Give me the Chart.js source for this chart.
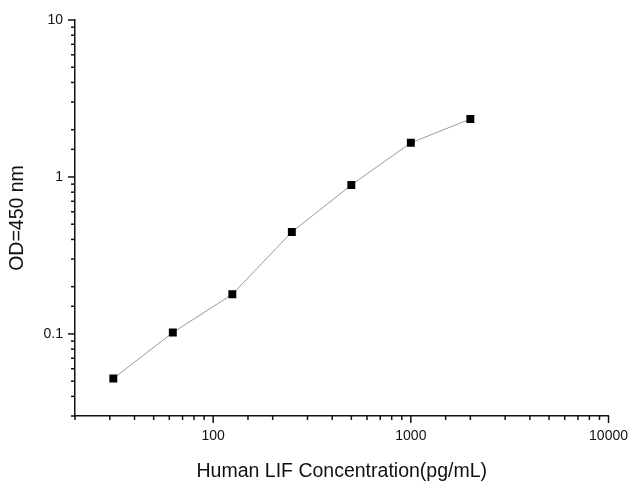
<!DOCTYPE html>
<html>
<head>
<meta charset="utf-8">
<script src="https://cdn.jsdelivr.net/npm/chart.js@4.4.1/dist/chart.umd.min.js"></script>
<style>
html,body{margin:0;padding:0;background:#fff;}
#wrap{width:633px;height:483px;position:relative;}
</style>
</head>
<body>
<div id="wrap"><canvas id="c" width="633" height="483"></canvas></div>
<script>
const concentrations = [31.25, 62.5, 125, 250, 500, 1000, 2000];
const odValues = [0.052, 0.102, 0.179, 0.446, 0.889, 1.65, 2.34];
const xTickLabels = [100, 1000, 10000];
const yTickLabels = [0.1, 1, 10];
const xTitle = 'Human LIF Concentration(pg/mL)';
const yTitle = 'OD=450 nm';

const FONT = '"Liberation Sans", Arial, sans-serif';

function isDecade(v) {
  const l = Math.log10(v);
  return Math.abs(l - Math.round(l)) < 1e-9;
}

const tickPlugin = {
  id: 'customTicks',
  afterDraw(chart) {
    const ctx = chart.ctx;
    ctx.save();
    ctx.strokeStyle = '#111';
    ctx.lineWidth = 1.5;
    const xs = chart.scales.x, ys = chart.scales.y;
    const bottom = chart.chartArea.bottom, left = chart.chartArea.left;
    xs.ticks.forEach(t => {
      const px = xs.getPixelForValue(t.value);
      const len = isDecade(t.value) ? 7 : 4;
      ctx.beginPath();
      ctx.moveTo(px, bottom);
      ctx.lineTo(px, bottom + len);
      ctx.stroke();
    });
    ys.ticks.forEach(t => {
      const py = ys.getPixelForValue(t.value);
      const len = isDecade(t.value) ? 7 : 4;
      ctx.beginPath();
      ctx.moveTo(left, py);
      ctx.lineTo(left - len, py);
      ctx.stroke();
    });
    ctx.restore();
  }
};

new Chart(document.getElementById('c'), {
  type: 'line',
  data: {
    datasets: [{
      data: concentrations.map((x, i) => ({x: x, y: odValues[i]})),
      borderColor: '#9a9a9a',
      borderWidth: 1,
      tension: 0,
      pointStyle: 'rect',
      pointRadius: 5.6,
      pointBackgroundColor: '#000',
      pointBorderColor: '#000',
      pointBorderWidth: 0,
      fill: false
    }]
  },
  options: {
    responsive: false,
    animation: false,
    devicePixelRatio: 1,
    layout: {padding: {top: 20, right: 21, left: 0, bottom: 0}},
    plugins: {legend: {display: false}, tooltip: {enabled: false}},
    scales: {
      x: {
        type: 'logarithmic',
        min: 20,
        max: 10000,
        border: {display: true, color: '#111', width: 1.5},
        grid: {display: true, drawOnChartArea: false, drawTicks: true, tickLength: 7, color: 'rgba(0,0,0,0)'},
        ticks: {
          autoSkip: false,
          maxRotation: 0,
          padding: 5,
          color: '#111',
          font: {family: FONT, size: 14},
          callback: (v) => xTickLabels.includes(v) ? String(v) : ''
        },
        title: {display: true, text: xTitle, color: '#111', font: {family: FONT, size: 19.5}, padding: {top: 8, bottom: 0}},
        afterFit: (s) => { s.height = 67; }
      },
      y: {
        type: 'logarithmic',
        min: 0.03,
        max: 10,
        border: {display: true, color: '#111', width: 1.5},
        grid: {display: true, drawOnChartArea: false, drawTicks: true, tickLength: 7, color: 'rgba(0,0,0,0)'},
        ticks: {
          autoSkip: false,
          padding: 5,
          color: '#111',
          font: {family: FONT, size: 14},
          callback: (v) => yTickLabels.some(t => Math.abs(t - v) < 1e-9) ? String(v) : ''
        },
        title: {display: true, text: yTitle, color: '#111', font: {family: FONT, size: 19.5}, padding: {top: 6, bottom: 6}},
        afterFit: (s) => { s.width = 75; }
      }
    }
  },
  plugins: [tickPlugin]
});
</script>
</body>
</html>
